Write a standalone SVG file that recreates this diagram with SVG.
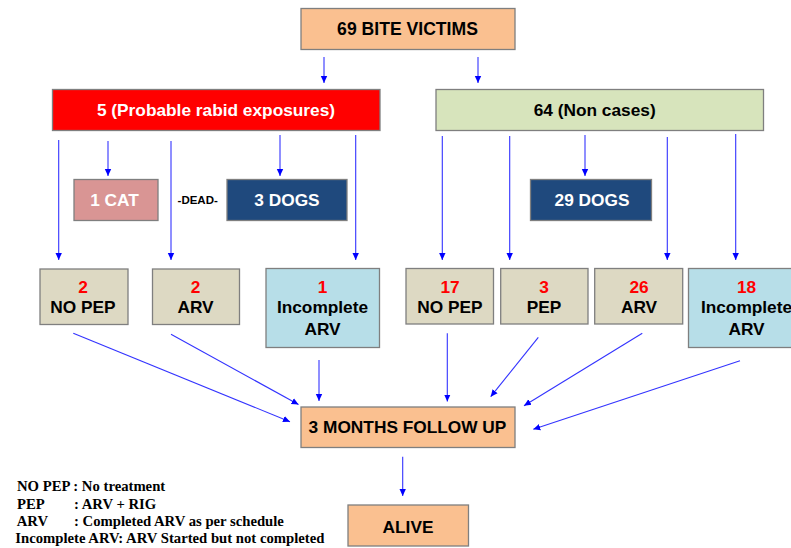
<svg xmlns="http://www.w3.org/2000/svg" width="791" height="548" viewBox="0 0 791 548">
<style>
.b{stroke:#7f7f7f;stroke-width:1.3}
.t{font-family:"Liberation Sans",Arial,sans-serif;font-weight:bold;font-size:17.3px;text-anchor:middle;fill:#000}
.w{fill:#fff}
.r{fill:#ff0000}
.c{stroke:#3333ff;stroke-width:1.1;fill:none;marker-end:url(#ah)}
.l{font-family:"Liberation Serif","Times New Roman",serif;font-weight:bold;font-size:14.7px;fill:#000}
</style>
<defs>
<marker id="ah" markerUnits="userSpaceOnUse" markerWidth="8" markerHeight="8" viewBox="0 0 8 8" refX="7" refY="4" orient="auto">
<path d="M0,0.8 L7,4 L0,7.2 Z" fill="#0000ff"/>
</marker>
</defs>
<rect width="791" height="548" fill="#fff"/>
<g id="connectors">
<line class="c" x1="324" y1="57" x2="324" y2="83"/>
<line class="c" x1="478" y1="57" x2="478" y2="83"/>
<line class="c" x1="58.7" y1="140" x2="58.7" y2="260"/>
<line class="c" x1="108" y1="141" x2="108" y2="176"/>
<line class="c" x1="171" y1="141" x2="171" y2="260"/>
<line class="c" x1="280" y1="135" x2="280" y2="176"/>
<line class="c" x1="355.7" y1="135" x2="355.7" y2="260"/>
<line class="c" x1="442.3" y1="136" x2="442.3" y2="260"/>
<line class="c" x1="509.7" y1="136" x2="509.7" y2="260"/>
<line class="c" x1="585" y1="135" x2="585" y2="176"/>
<line class="c" x1="667.3" y1="137" x2="667.3" y2="260"/>
<line class="c" x1="735.7" y1="134" x2="735.7" y2="260"/>
<line class="c" x1="73.3" y1="333.3" x2="290" y2="421.7"/>
<line class="c" x1="171" y1="334.3" x2="298.5" y2="404.5"/>
<line class="c" x1="319" y1="360" x2="319" y2="401"/>
<line class="c" x1="447.3" y1="333.3" x2="447.3" y2="401.5"/>
<line class="c" x1="538.3" y1="337.3" x2="490.7" y2="396.7"/>
<line class="c" x1="642.3" y1="333.3" x2="524" y2="405.7"/>
<line class="c" x1="740" y1="360.7" x2="533.3" y2="429.3"/>
<line class="c" x1="402.7" y1="456.7" x2="402.7" y2="496"/>
</g>
<g id="n-bite">
<rect class="b" x="301" y="8.5" width="214" height="41" fill="#fac090"/>
<text class="t" x="407.5" y="34.5" style="font-size:17.6px">69 BITE VICTIMS</text>
</g>
<g id="n-probable">
<rect class="b" x="52.5" y="89.5" width="327.5" height="41" fill="#ff0000"/>
<text class="t w" x="216" y="116">5 (Probable rabid exposures)</text>
</g>
<g id="n-noncases">
<rect class="b" x="436" y="89.5" width="327.5" height="41" fill="#d7e4bc"/>
<text class="t" x="594.7" y="116">64 (Non cases)</text>
</g>
<g id="n-cat">
<rect class="b" x="74" y="179.5" width="84" height="41" fill="#d99594"/>
<text class="t w" x="114.5" y="206">1 CAT</text>
</g>
<g id="n-dead">
<text class="t" x="197.7" y="204" style="font-size:11.5px">-DEAD-</text>
</g>
<g id="n-3dogs">
<rect class="b" x="227" y="179.5" width="120" height="41" fill="#1f497d"/>
<text class="t w" x="287" y="206">3 DOGS</text>
</g>
<g id="n-29dogs">
<rect class="b" x="530.5" y="179.5" width="121" height="41" fill="#1f497d"/>
<text class="t w" x="592" y="206">29 DOGS</text>
</g>
<g id="n-l-nopep">
<rect class="b" x="40" y="269" width="88" height="55.5" fill="#ddd9c3"/>
<text class="t r" x="83" y="292.5">2</text>
<text class="t" x="83" y="313">NO PEP</text>
</g>
<g id="n-l-arv">
<rect class="b" x="152.5" y="269" width="87" height="55.5" fill="#ddd9c3"/>
<text class="t r" x="195.5" y="292.5">2</text>
<text class="t" x="195.5" y="313">ARV</text>
</g>
<g id="n-l-inc">
<rect class="b" x="266" y="268.5" width="113.5" height="79" fill="#b7dee8"/>
<text class="t r" x="322.5" y="292.5">1</text>
<text class="t" x="322.5" y="313">Incomplete</text>
<text class="t" x="322.5" y="334.5">ARV</text>
</g>
<g id="n-r-nopep">
<rect class="b" x="406" y="268.5" width="87.5" height="55.5" fill="#ddd9c3"/>
<text class="t r" x="450" y="292.5">17</text>
<text class="t" x="450" y="313">NO PEP</text>
</g>
<g id="n-r-pep">
<rect class="b" x="500.7" y="268.5" width="87.3" height="55.5" fill="#ddd9c3"/>
<text class="t r" x="544" y="292.5">3</text>
<text class="t" x="544" y="313">PEP</text>
</g>
<g id="n-r-arv">
<rect class="b" x="594.7" y="268.5" width="88" height="55.5" fill="#ddd9c3"/>
<text class="t r" x="639" y="292.5">26</text>
<text class="t" x="639" y="313">ARV</text>
</g>
<g id="n-r-inc">
<rect class="b" x="688.5" y="268.5" width="116" height="79" fill="#b7dee8"/>
<text class="t r" x="746.5" y="292.5">18</text>
<text class="t" x="746.5" y="313">Incomplete</text>
<text class="t" x="746.5" y="334.5">ARV</text>
</g>
<g id="n-followup">
<rect class="b" x="301" y="407" width="214" height="40.5" fill="#fac090"/>
<text class="t" x="407.5" y="432.7">3 MONTHS FOLLOW UP</text>
</g>
<g id="n-alive">
<rect class="b" x="348" y="505" width="120.5" height="41" fill="#fac090"/>
<text class="t" x="408" y="533">ALIVE</text>
</g>
<g id="legend">
<text class="l" x="17" y="490.7">NO PEP : No treatment</text>
<text class="l" x="17" y="509.3">PEP</text>
<text class="l" x="74" y="509.3">:  ARV + RIG</text>
<text class="l" x="16.7" y="525.7">ARV</text>
<text class="l" x="74" y="525.7">: Completed ARV as per schedule</text>
<text class="l" x="15.3" y="543.3">Incomplete ARV: ARV Started but not completed</text>
</g>
</svg>
